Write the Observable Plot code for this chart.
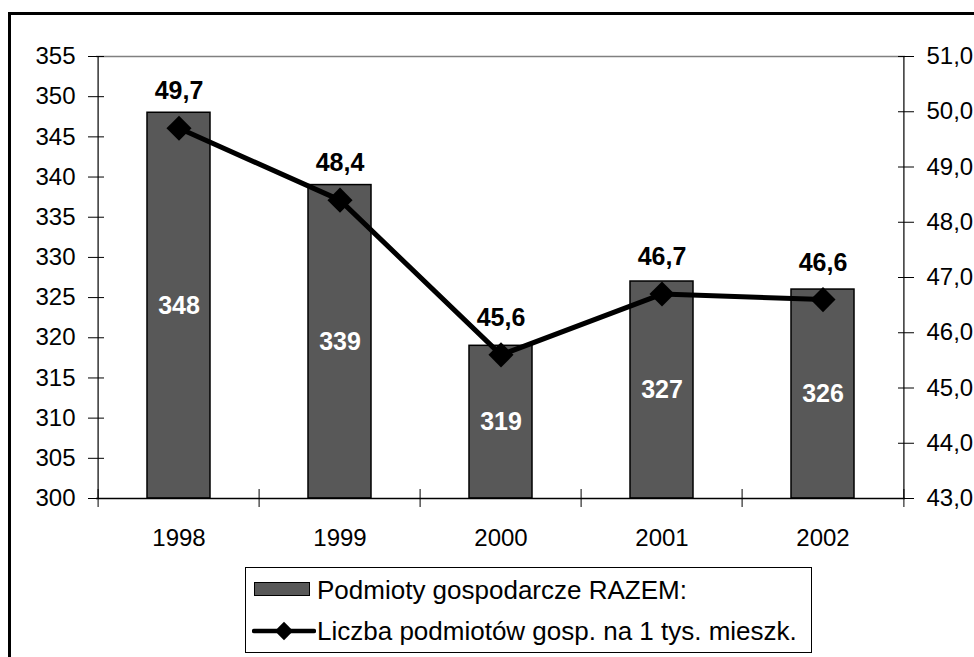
<!DOCTYPE html>
<html><head><meta charset="utf-8">
<script src="https://cdn.jsdelivr.net/npm/d3@7"></script>
<script src="https://cdn.jsdelivr.net/npm/@observablehq/plot@0.6"></script>
<style>
body{margin:0;background:#fff;}
#wrap{position:relative;width:974px;height:657px;overflow:hidden;font-family:"Liberation Sans",Arial,sans-serif;background:#fff;}
#chart{position:absolute;left:0;top:0;}
#outer{position:absolute;left:8px;top:12px;width:1100px;height:800px;border:3px solid #000;box-sizing:border-box;pointer-events:none;}
#legend{position:absolute;left:245px;top:567px;width:567px;height:86px;border:1.5px solid #000;background:#fff;box-sizing:border-box;}
.lt{position:absolute;left:71px;height:30px;line-height:30px;font-size:26px;white-space:nowrap;color:#000;}
</style></head>
<body>
<div id="wrap">
  <div id="chart"></div>
  <div id="outer"></div>
  <div id="legend"></div>
</div>
<script>
// ---- data ----
const years = ["1998", "1999", "2000", "2001", "2002"];
const totals = [348, 339, 319, 327, 326];
const rates = [49.7, 48.4, 45.6, 46.7, 46.6];
const leftTicks = [300, 305, 310, 315, 320, 325, 330, 335, 340, 345, 350, 355];
const rightTicks = [43, 44, 45, 46, 47, 48, 49, 50, 51];
const legendLabels = ["Podmioty gospodarcze RAZEM:", "Liczba podmiotów gosp. na 1 tys. mieszk."];

// ---- scales mapping (secondary axis onto primary) ----
const L0 = leftTicks[0], L1 = leftTicks[leftTicks.length - 1];
const R0 = rightTicks[0], R1 = rightTicks[rightTicks.length - 1];
const toLeft = v => L0 + (v - R0) * (L1 - L0) / (R1 - R0);
const fromLeft = v => R0 + (v - L0) * (R1 - R0) / (L1 - L0);
const fmt = v => v.toFixed(1).replace(".", ",");

const data = years.map((year, i) => ({year, total: totals[i], rate: rates[i]}));

const W = 974, H = 657, mL = 96, mR = 69, mT = 56, mB = 159;
const bw = (W - mL - mR) / years.length;
const last = years[years.length - 1];
const barColor = "#585858";

const chart = Plot.plot({
  width: W, height: H,
  marginLeft: mL, marginRight: mR, marginTop: mT, marginBottom: mB,
  style: {fontFamily: "Liberation Sans, Arial, sans-serif", background: "transparent", overflow: "visible", color: "#000"},
  x: {type: "band", domain: years, padding: 0},
  y: {domain: [L0, L1]},
  marks: [
    Plot.ruleY([L1], {stroke: "#808080", strokeWidth: 1.5}),
    Plot.barY(data, {x: "year", y1: L0, y2: "total", fill: barColor, stroke: "#000", strokeWidth: 1.5, insetLeft: 49, insetRight: 49}),
    Plot.ruleY([L0], {stroke: "#000", strokeWidth: 1.5}),
    Plot.ruleX([years[0]], {dx: -bw / 2, stroke: "#000", strokeWidth: 1.2}),
    Plot.ruleX([last], {dx: bw / 2, stroke: "#000", strokeWidth: 1.2}),
    Plot.ruleX(years, {x: d => d, y1: L0, y2: L0, dx: -bw / 2, insetTop: -9, insetBottom: -9, stroke: "#000"}),
    Plot.ruleX([last], {x: d => d, y1: L0, y2: L0, dx: bw / 2, insetTop: -9, insetBottom: -9, stroke: "#000"}),
    Plot.axisY(leftTicks, {anchor: "left", tickSize: 16, dx: 8, tickPadding: 13, fontSize: 24, label: null, tickFormat: d => String(d)}),
    Plot.axisY(rightTicks.map(toLeft), {anchor: "right", tickSize: 16, dx: -8, tickPadding: 13, fontSize: 24, label: null, tickFormat: d => fmt(fromLeft(d))}),
    Plot.axisX({tickSize: 0, tickPadding: 30, fontSize: 24, label: null}),
    Plot.line(data, {x: "year", y: d => toLeft(d.rate), stroke: "#000", strokeWidth: 5, strokeLinejoin: "round"}),
    Plot.dot(data, {x: "year", y: d => toLeft(d.rate), symbol: "square", r: 10, rotate: 45, fill: "#000", stroke: "none"}),
    Plot.text(data, {x: "year", y: d => toLeft(d.rate), text: d => fmt(d.rate), dy: -37, fontSize: 25, fontWeight: "bold", fill: "#000"}),
    Plot.text(data, {x: "year", y: d => (L0 + d.total) / 2, text: d => String(d.total), fill: "#fff", fontSize: 25, fontWeight: "bold"})
  ]
});
document.getElementById("chart").appendChild(chart);

// ---- legend ----
const lg = document.getElementById("legend");
lg.innerHTML = `
  <div style="position:absolute;left:8px;top:14px;width:56px;height:14px;background:${barColor};border:1.5px solid #000;box-sizing:border-box;"></div>
  <div class="lt" style="top:7px;">${legendLabels[0]}</div>
  <svg style="position:absolute;left:6px;top:48px;" width="64" height="30">
    <line x1="2" y1="15" x2="62" y2="15" stroke="#000" stroke-width="4.5" stroke-linecap="round"/>
    <rect x="25.5" y="8.5" width="13" height="13" fill="#000" transform="rotate(45 32 15)"/>
  </svg>
  <div class="lt" style="top:48px;">${legendLabels[1]}</div>`;
</script>
</body></html>
